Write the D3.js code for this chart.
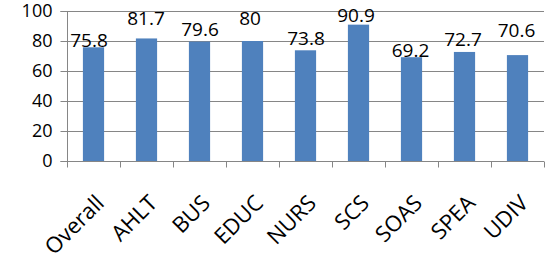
<!DOCTYPE html>
<html><head><meta charset="utf-8">
<script src="https://cdn.jsdelivr.net/npm/d3@7"></script>
<style>body{margin:0;background:#fff}svg{display:block}text{font-family:"Open Sans",sans-serif;fill:#000}</style>
</head><body><svg id="c" width="546" height="258"></svg>
<script>
const categories = ["Overall","AHLT","BUS","EDUC","NURS","SCS","SOAS","SPEA","UDIV"];
const values = [75.8,81.7,79.6,80,73.8,90.9,69.2,72.7,70.6];
const yTicks = [0,20,40,60,80,100];

// layout (label nudges, px, relative to default position above bar)
const labelNudgeX = [-4.5,-0.5,0.5,-2.5,0.5,-2.5,-1,-1.5,-1];
const labelNudgeY = [0,-13.5,-5.5,-16,-5,-3,0,-6,-18];

const svg = d3.select("#c");
const m = {l:67, r:2, t:11, b:97};
const W = 546, H = 258;
const x = d3.scaleBand().domain(categories).range([m.l, W - m.r]).paddingInner(0.6).paddingOuter(0.3);
const y = d3.scaleLinear().domain([0,100]).range([H - m.b, m.t]);
const grey = "#868686";

svg.append("g").selectAll("line").data(yTicks.filter(d=>d>0)).join("line")
  .attr("x1", m.l).attr("x2", W - m.r).attr("y1", d=>y(d)+0.5).attr("y2", d=>y(d)+0.5)
  .attr("stroke", grey).attr("stroke-width", 1);

svg.append("g").selectAll("rect").data(values).join("rect")
  .attr("x", (d,i)=>x(categories[i])).attr("width", x.bandwidth())
  .attr("y", d=>y(d)).attr("height", d=>y(0)-y(d)).attr("fill", "#4F81BD");

const ya = svg.append("g").attr("transform", `translate(${m.l+0.5},0)`)
  .call(d3.axisLeft(y).tickValues(yTicks).tickSize(7).tickPadding(8));
ya.select(".domain").attr("stroke", grey).attr("d", `M-7,${y(100)+0.5}H0V${y(0)+0.5}H-7`);
ya.selectAll(".tick line").attr("stroke", grey);
ya.selectAll("text").attr("font-size", 18).attr("font-family","Open Sans").attr("fill","#000");

const step = x.step();
const xa = svg.append("g").attr("transform", `translate(0,${y(0)+0.5})`);
xa.append("line").attr("x1", m.l).attr("x2", W - m.r).attr("stroke", grey);
xa.selectAll("line.t").data(d3.range(categories.length+1)).join("line").attr("class","t")
  .attr("x1", i=>m.l + i*step + 0.5).attr("x2", i=>m.l + i*step + 0.5).attr("y1",0).attr("y2",6).attr("stroke", grey);
xa.selectAll("text").data(categories).join("text")
  .attr("transform", d=>`translate(${x(d)+x.bandwidth()/2+12},43) rotate(-45)`)
  .attr("text-anchor","end").attr("font-size",22).text(d=>d);

svg.append("g").selectAll("text").data(values).join("text")
  .attr("x", (d,i)=>x(categories[i])+x.bandwidth()/2 + labelNudgeX[i])
  .attr("y", (d,i)=>y(d) + labelNudgeY[i])
  .attr("text-anchor","middle").attr("font-size",19).text(d=>d);
</script></body></html>
